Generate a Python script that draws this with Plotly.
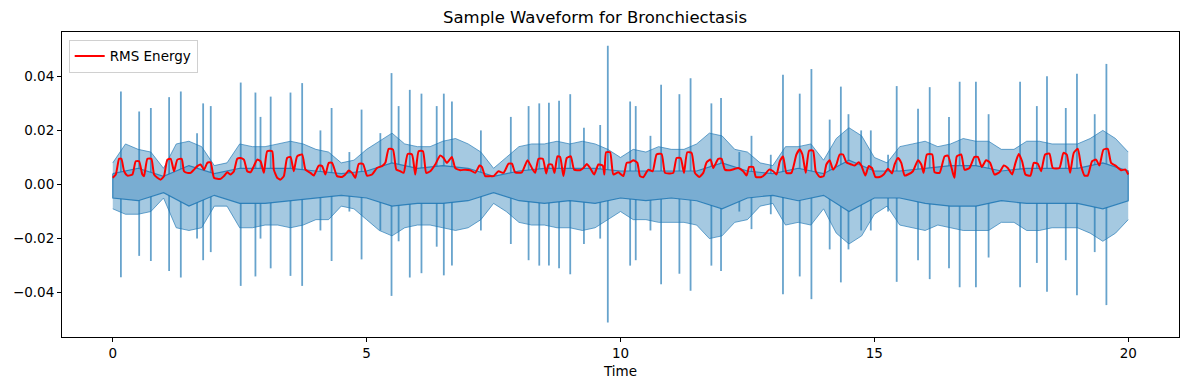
import plotly.graph_objects as go

# ---- data ----
env_time = [i * 0.25 for i in range(81)]
env_upper = [0.008, 0.015, 0.013, 0.012, 0.006, 0.015, 0.016, 0.014, 0.007, 0.008,
             0.015, 0.014, 0.014, 0.015, 0.016, 0.015, 0.013, 0.012, 0.008, 0.009,
             0.013, 0.016, 0.019, 0.015, 0.014, 0.014, 0.016, 0.017, 0.015, 0.012,
             0.006, 0.010, 0.014, 0.015, 0.015, 0.016, 0.015, 0.016, 0.015, 0.013,
             0.010, 0.013, 0.012, 0.014, 0.013, 0.013, 0.015, 0.019, 0.018, 0.013,
             0.012, 0.008, 0.007, 0.014, 0.014, 0.015, 0.009, 0.017, 0.021, 0.018,
             0.010, 0.008, 0.014, 0.015, 0.016, 0.014, 0.015, 0.017, 0.016, 0.016,
             0.013, 0.013, 0.016, 0.016, 0.015, 0.015, 0.015, 0.017, 0.020, 0.017,
             0.012]
env_lower = [-0.009, -0.011, -0.011, -0.010, -0.005, -0.016, -0.017, -0.016, -0.008, -0.008,
             -0.016, -0.016, -0.015, -0.015, -0.016, -0.015, -0.013, -0.013, -0.008, -0.009,
             -0.013, -0.017, -0.019, -0.016, -0.015, -0.015, -0.016, -0.017, -0.016, -0.013,
             -0.007, -0.010, -0.014, -0.015, -0.015, -0.016, -0.016, -0.017, -0.016, -0.013,
             -0.010, -0.013, -0.013, -0.014, -0.014, -0.014, -0.015, -0.020, -0.019, -0.014,
             -0.013, -0.008, -0.007, -0.015, -0.014, -0.015, -0.009, -0.018, -0.022, -0.019,
             -0.011, -0.008, -0.015, -0.016, -0.017, -0.015, -0.016, -0.017, -0.017, -0.017,
             -0.014, -0.014, -0.017, -0.017, -0.016, -0.016, -0.016, -0.018, -0.021, -0.018,
             -0.013]

core_time = [i * 0.5 for i in range(41)]
core_upper = [0.004, 0.006, 0.003, 0.007, 0.004, 0.006, 0.006, 0.006, 0.005, 0.004,
              0.005, 0.008, 0.006, 0.007, 0.006, 0.003, 0.005, 0.006, 0.006, 0.006,
              0.005, 0.005, 0.005, 0.005, 0.008, 0.005, 0.004, 0.006, 0.004, 0.009,
              0.005, 0.005, 0.006, 0.007, 0.007, 0.005, 0.006, 0.006, 0.006, 0.008,
              0.005]
core_lower = [-0.005, -0.006, -0.003, -0.008, -0.004, -0.007, -0.007, -0.006, -0.005, -0.004,
              -0.005, -0.008, -0.007, -0.007, -0.006, -0.003, -0.006, -0.007, -0.006, -0.007,
              -0.005, -0.006, -0.005, -0.006, -0.009, -0.005, -0.004, -0.006, -0.004, -0.010,
              -0.005, -0.005, -0.007, -0.008, -0.008, -0.006, -0.007, -0.007, -0.007, -0.009,
              -0.006]

spike_time = [0.16, 0.52, 0.75, 1.11, 1.34, 1.66, 1.78, 1.93, 2.52, 2.81,
              2.91, 3.11, 3.50, 3.73, 4.09, 4.31, 4.66, 4.90, 5.27, 5.49,
              5.63, 5.85, 6.08, 6.38, 6.52, 6.68, 7.25, 7.84, 8.19, 8.40,
              8.59, 8.79, 9.01, 9.28, 9.60, 9.75, 10.19, 10.30, 10.59, 10.80,
              11.16, 11.38, 11.79, 11.98, 12.34, 12.58, 12.96, 13.20, 13.53, 13.76,
              14.12, 14.34, 14.49, 14.74, 14.93, 15.27, 15.44, 15.86, 16.09, 16.47,
              16.68, 17.00, 17.25, 17.87, 18.20, 18.40, 18.77, 18.99, 19.34, 19.57]
spike_top = [0.0344, 0.027, 0.0283, 0.0323, 0.0344, 0.019, 0.030, 0.029, 0.0377, 0.034,
             0.025, 0.0325, 0.034, 0.0375, 0.020, 0.0283, 0.012, 0.0277, 0.019, 0.0412,
             0.029, 0.035, 0.0336, 0.029, 0.0336, 0.0307, 0.020, 0.025, 0.029, 0.030,
             0.0302, 0.031, 0.0334, 0.021, 0.022, 0.0513, 0.0307, 0.029, 0.018, 0.0369,
             0.0334, 0.0393, 0.030, 0.032, 0.012, 0.018, 0.011, 0.0406, 0.0336, 0.0427,
             0.024, 0.0362, 0.026, 0.020, 0.020, 0.011, 0.0364, 0.028, 0.036, 0.025,
             0.038, 0.038, 0.026, 0.038, 0.029, 0.040, 0.0283, 0.041, 0.026, 0.0446]
spike_bottom = [-0.0343, -0.0264, -0.0283, -0.032, -0.0344, -0.020, -0.028, -0.025, -0.0375, -0.034,
                -0.020, -0.031, -0.0338, -0.0375, -0.017, -0.0283, -0.010, -0.0277, -0.017, -0.0412,
                -0.021, -0.0344, -0.0328, -0.023, -0.0336, -0.030, -0.017, -0.022, -0.028, -0.030,
                -0.030, -0.031, -0.0332, -0.022, -0.020, -0.051, -0.030, -0.028, -0.017, -0.0369,
                -0.033, -0.0393, -0.030, -0.032, -0.010, -0.0165, -0.011, -0.0406, -0.034, -0.0424,
                -0.024, -0.0362, -0.024, -0.017, -0.017, -0.010, -0.036, -0.028, -0.035, -0.031,
                -0.038, -0.038, -0.027, -0.038, -0.029, -0.0397, -0.028, -0.041, -0.025, -0.0446]

rms_time = [0.0, 0.06, 0.125, 0.17, 0.223, 0.288, 0.387, 0.452, 0.518, 0.583,
            0.616, 0.682, 0.76, 0.813, 0.878, 0.944, 1.009, 1.075, 1.141, 1.206,
            1.272, 1.357, 1.403, 1.468, 1.534, 1.599, 1.665, 1.731, 1.796, 1.862,
            1.927, 1.993, 2.058, 2.124, 2.189, 2.255, 2.321, 2.386, 2.452, 2.517,
            2.583, 2.648, 2.714, 2.779, 2.845, 2.91, 2.976, 3.042, 3.14,
            3.172, 3.238, 3.303, 3.369, 3.434, 3.5, 3.565, 3.631, 3.729, 3.795,
            3.893, 3.959, 4.057, 4.123, 4.188, 4.254, 4.319, 4.418, 4.516, 4.581,
            4.647, 4.713, 4.778, 4.844, 4.929, 5.008, 5.106, 5.204, 5.303, 5.368,
            5.434, 5.519, 5.585, 5.663, 5.729, 5.808, 5.893, 5.958, 6.024, 6.109,
            6.174, 6.253, 6.351, 6.449,
            6.516, 6.581, 6.679, 6.745, 6.844, 6.942, 7.04, 7.139, 7.224, 7.27,
            7.335, 7.434, 7.5, 7.598, 7.696, 7.795, 7.861, 7.926, 8.057, 8.169,
            8.254, 8.32, 8.385, 8.47, 8.536, 8.582, 8.648, 8.7, 8.759, 8.81,
            8.876, 8.942, 9.021, 9.087, 9.205, 9.27, 9.336, 9.401, 9.48, 9.565,
            9.65, 9.683, 9.716, 9.795,
            9.859, 9.958, 10.056, 10.122, 10.187, 10.253, 10.332, 10.384, 10.449, 10.548,
            10.633, 10.711, 10.81, 10.876, 10.974, 11.04, 11.105, 11.184, 11.25, 11.315,
            11.4, 11.466, 11.551, 11.63, 11.696, 11.774, 11.827, 11.925, 11.991, 12.056,
            12.155, 12.253, 12.319, 12.417, 12.483, 12.535, 12.614, 12.666, 12.778, 12.843,
            12.929, 13.007, 13.073, 13.139,
            13.202, 13.268, 13.366, 13.465, 13.53, 13.583, 13.648, 13.714, 13.793, 13.845,
            13.924, 14.002, 14.055, 14.12, 14.186, 14.252, 14.317, 14.383, 14.448, 14.547,
            14.612, 14.691, 14.744, 14.822, 14.888, 14.953, 15.019, 15.104, 15.183, 15.268,
            15.347, 15.399, 15.465, 15.53, 15.596, 15.661, 15.76, 15.858, 15.924, 15.97,
            16.035, 16.14, 16.186, 16.285, 16.383, 16.449,
            16.545, 16.578, 16.624, 16.71, 16.775, 16.873, 16.972, 17.037, 17.116, 17.201,
            17.28, 17.365, 17.464, 17.549, 17.628, 17.713, 17.779, 17.845, 17.91, 17.976,
            18.074, 18.14, 18.219, 18.284, 18.363, 18.448, 18.514, 18.645, 18.724, 18.789,
            18.855, 18.927, 19.006, 19.072, 19.138, 19.203, 19.288, 19.367, 19.433, 19.512,
            19.597, 19.662, 19.761, 19.859, 19.944, 20.0]
rms_value = [0.0025, 0.0037, 0.0095, 0.0095, 0.0049, 0.0033, 0.0037, 0.0086, 0.0086, 0.0037,
             0.0031, 0.0095, 0.0095, 0.0037, 0.0025, 0.0018, 0.0031, 0.0092, 0.0095, 0.0049,
             0.0092, 0.0095, 0.0049, 0.0043, 0.0043, 0.0055, 0.0068, 0.0074, 0.0055, 0.0080,
             0.0082, 0.0025, 0.0021, 0.0021, 0.0031, 0.0045, 0.0037, 0.0049, 0.0095, 0.0098,
             0.0092, 0.0049, 0.0045, 0.0068, 0.0092, 0.0086, 0.0043, 0.0123, 0.0123,
             0.0055, 0.0025, 0.0018, 0.0031, 0.0098, 0.0102, 0.0049, 0.0104, 0.0111, 0.0055,
             0.0043, 0.0033, 0.0070, 0.0068, 0.0037, 0.0080, 0.0080, 0.0031, 0.0028, 0.0037,
             0.0052, 0.0043, 0.0025, 0.0076, 0.0076, 0.0033, 0.0037, 0.0061, 0.0068, 0.0080,
             0.0132, 0.0129, 0.0055, 0.0049, 0.0043, 0.0113, 0.0111, 0.0037, 0.0123, 0.0123,
             0.0043, 0.0049, 0.0074, 0.0107,
             0.0098, 0.0080, 0.0102, 0.0061, 0.0053, 0.0055, 0.0053, 0.0043, 0.0070, 0.0065,
             0.0031, 0.0031, 0.0031, 0.0049, 0.0043, 0.0077, 0.0077, 0.0045, 0.0045, 0.0090,
             0.0061, 0.0043, 0.0095, 0.0095, 0.0041, 0.0074, 0.0074, 0.0043, 0.0104, 0.0102,
             0.0031, 0.0098, 0.0104, 0.0055, 0.0053, 0.0061, 0.0076, 0.0061, 0.0037, 0.0074,
             0.0070, 0.0037, 0.0119, 0.0119,
             0.0037, 0.0045, 0.0031, 0.0080, 0.0082, 0.0090, 0.0080, 0.0031, 0.0027, 0.0055,
             0.0049, 0.0111, 0.0113, 0.0043, 0.0041, 0.0043, 0.0098, 0.0098, 0.0043, 0.0119,
             0.0117, 0.0043, 0.0028, 0.0043, 0.0082, 0.0092, 0.0061, 0.0095, 0.0095, 0.0055,
             0.0053, 0.0058, 0.0061, 0.0049, 0.0033, 0.0065, 0.0065, 0.0028, 0.0028, 0.0037,
             0.0055, 0.0049, 0.0037, 0.0086,
             0.0104, 0.0043, 0.0043, 0.0111, 0.0129, 0.0111, 0.0043, 0.0125, 0.0125, 0.0049,
             0.0028, 0.0031, 0.0074, 0.0090, 0.0055, 0.0074, 0.0111, 0.0111, 0.0082, 0.0074,
             0.0070, 0.0082, 0.0070, 0.0033, 0.0068, 0.0061, 0.0028, 0.0028, 0.0037, 0.0058,
             0.0041, 0.0074, 0.0098, 0.0080, 0.0033, 0.0037, 0.0049, 0.0090, 0.0074, 0.0043,
             0.0111, 0.0111, 0.0045, 0.0043, 0.0104, 0.0107,
             0.0043, 0.0025, 0.0104, 0.0111, 0.0055, 0.0061, 0.0102, 0.0102, 0.0065, 0.0090,
             0.0080, 0.0037, 0.0045, 0.0070, 0.0061, 0.0037, 0.0080, 0.0113, 0.0086, 0.0037,
             0.0033, 0.0080, 0.0077, 0.0049, 0.0111, 0.0114, 0.0061, 0.0061, 0.0117, 0.0111,
             0.0043, 0.0117, 0.0132, 0.0068, 0.0033, 0.0033, 0.0086, 0.0092, 0.0070, 0.0129,
             0.0132, 0.0080, 0.0068, 0.0053, 0.0055, 0.0037]

x_ticks = [0, 5, 10, 15, 20]
y_ticks = [-0.04, -0.02, 0.0, 0.02, 0.04]

fringe_fill = "rgba(31,119,180,0.40)"
fringe_edge = "rgba(31,119,180,0.65)"
core_fill = "rgb(121,173,210)"
core_edge = "rgba(31,119,180,0.85)"
spike_line = "rgba(31,119,180,0.68)"

fig = go.Figure()

# waveform fringe (outer envelope)
fig.add_trace(go.Scatter(x=env_time, y=env_upper, mode="lines",
                         line=dict(color=fringe_edge, width=1),
                         showlegend=False, hoverinfo="skip"))
fig.add_trace(go.Scatter(x=env_time, y=env_lower, mode="lines", fill="tonexty",
                         fillcolor=fringe_fill,
                         line=dict(color=fringe_edge, width=1),
                         showlegend=False, hoverinfo="skip"))

# transient spikes
sx, sy = [], []
for t, a, b in zip(spike_time, spike_top, spike_bottom):
    sx += [t, t, None]
    sy += [a, b, None]
fig.add_trace(go.Scatter(x=sx, y=sy, mode="lines",
                         line=dict(color=spike_line, width=1.8),
                         showlegend=False, hoverinfo="skip"))

# waveform core (dense inner body) as a closed polygon
core_x = core_time + core_time[::-1] + [core_time[0]]
core_y = core_upper + core_lower[::-1] + [core_upper[0]]
fig.add_trace(go.Scatter(x=core_x, y=core_y, mode="lines", fill="toself",
                         fillcolor=core_fill,
                         line=dict(color=core_edge, width=1.2),
                         showlegend=False, hoverinfo="skip"))

# RMS energy
fig.add_trace(go.Scatter(x=rms_time, y=rms_value, mode="lines", name="RMS Energy",
                         line=dict(color="red", width=2, shape="spline", smoothing=0.5)))

font_family = "DejaVu Sans"
axis_common = dict(showline=True, linecolor="black", linewidth=1, mirror=True,
                   ticks="outside", ticklen=4, tickcolor="black", showgrid=False,
                   zeroline=False, tickfont=dict(family=font_family, size=13.5, color="black"))

fig.update_layout(
    width=1190, height=390,
    margin=dict(l=62, r=11, t=32, b=53),
    plot_bgcolor="white", paper_bgcolor="white",
    title=dict(text="Sample Waveform for Bronchiectasis", x=0.5, xanchor="center",
               y=0.955, yanchor="middle",
               font=dict(family=font_family, size=16.5, color="black")),
    legend=dict(x=0.006, y=0.975, xanchor="left", yanchor="top",
                bgcolor="rgba(255,255,255,0.8)", bordercolor="#d0d0d0", borderwidth=1,
                font=dict(family=font_family, size=13.5, color="black")),
    xaxis=dict(range=[-1, 21], tickvals=x_ticks, ticktext=[str(v) for v in x_ticks],
               title=dict(text="Time", font=dict(family=font_family, size=13.5, color="black"),
                          standoff=6),
               **axis_common),
    yaxis=dict(range=[-0.0564, 0.0564], tickvals=y_ticks, tickformat=".2f",
               **axis_common),
)

fig.write_html("out.html", config={"displayModeBar": False},
               post_script="document.body.style.margin='0';")
